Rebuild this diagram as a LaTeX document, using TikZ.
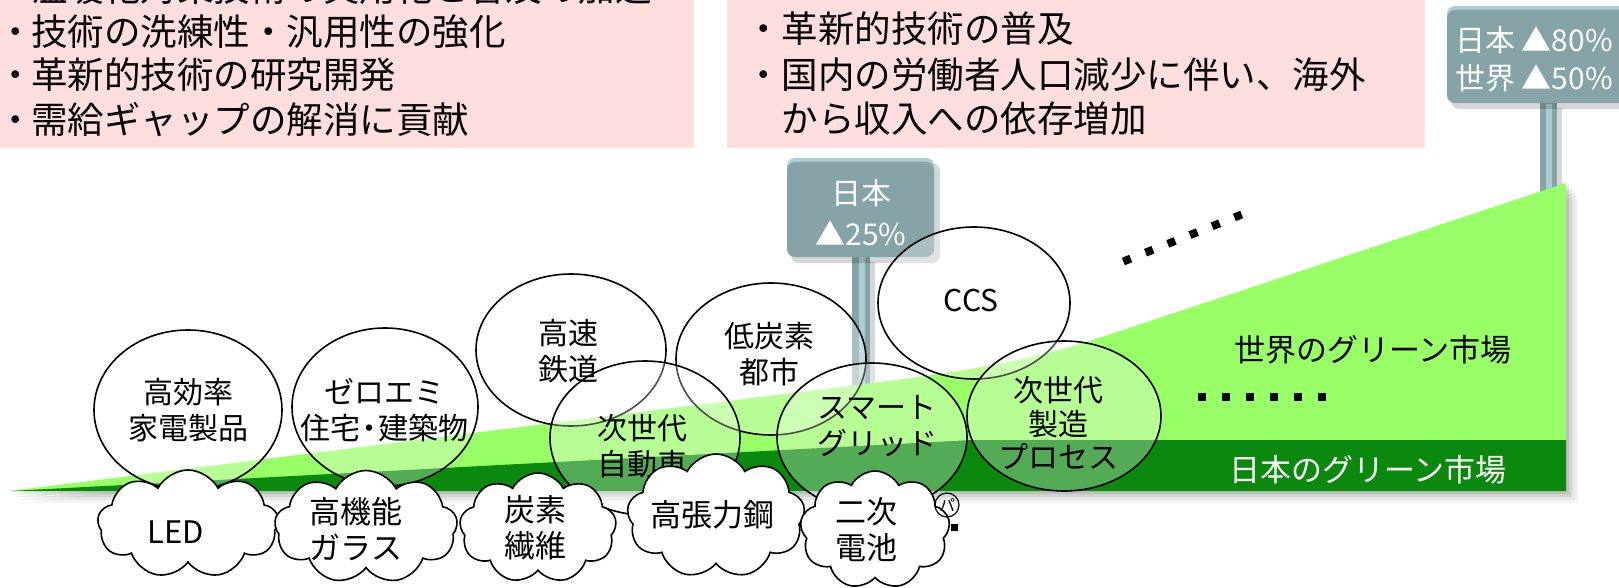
\documentclass[tikz,border=0pt]{standalone}
\usepackage{fontspec}
\setmainfont{Noto Sans CJK JP}
\usetikzlibrary{shapes.geometric,shapes.symbols}
\definecolor{pinkbg}{RGB}{255,222,224}
\definecolor{lgreen}{RGB}{153,255,102}
\definecolor{dgreen}{RGB}{11,136,14}
\definecolor{signc}{RGB}{134,164,168}
\definecolor{signhi}{RGB}{172,205,210}
\newcommand{\bdot}{\makebox[31pt][c]{・}}
\begin{document}
\begin{tikzpicture}[x=1pt,y=-1pt,
  bub/.style={ellipse, draw=black, line width=1.6pt, fill=white, fill opacity=0.3, inner sep=0pt},
  btxt/.style={font=\fontsize{30}{36}\selectfont, align=center, inner sep=0pt},
  cld/.style={cloud, cloud puffs=9, cloud puff arc=125, cloud ignores aspect, draw=black, line width=1.6pt, fill=white, inner sep=0pt},
  ctxt/.style={font=\fontsize{31}{36}\selectfont, align=center, inner sep=0pt},
  ptxt/.style={font=\fontsize{36.5}{44}\selectfont, anchor=west, inner sep=0pt},
  stxt/.style={font=\fontsize{30}{36}\selectfont, text=white, inner sep=0pt},
  sq/.style={line width=8pt, dash pattern=on 8pt off 15.9pt},
  shd/.style={black, opacity=0.16},
]
\useasboundingbox (0,0) rectangle (1619,588);

\begin{scope}
\clip (0,0) rectangle (1619,588);
% pink boxes
\fill[pinkbg] (0,0) rectangle (694,148);
\fill[pinkbg] (727,0) rectangle (1425,148);
\node[ptxt] (l0) at (0,-12) {\bdot 温暖化対策技術の実用化と普及の加速};
\node[ptxt] (l1) at (0,32) {\bdot 技術の洗練性・汎用性の強化};
\node[ptxt] (l2) at (0,75) {\bdot 革新的技術の研究開発};
\node[ptxt] (l3) at (0,120) {\bdot 需給ギャップの解消に貢献};
\node[ptxt] (r1) at (745,29) {・革新的技術の普及};
\node[ptxt] (r2) at (745,75) {・国内の労働者人口減少に伴い、海外};
\node[ptxt] (r3) at (745,119) {　から収入への依存増加};

% middle sign
\fill[shd] (870,262) rectangle (875,400);
\fill[signc] (852,250) rectangle (870,400);
\fill[signhi] (859,257) rectangle (865,400);
\fill[shd, rounded corners=8pt] (791,163) rectangle (940,263);
\fill[signhi, rounded corners=8pt] (787,158) rectangle (934,257);
\fill[signc, rounded corners=8pt] (787,162) rectangle (934,257);
\node[stxt] (s1a) at (861,193) {日本};
\node[stxt] (s1b) at (861,233) {▲25\%};

% right sign
\fill[shd] (1557,108) rectangle (1562,230);
\fill[signc] (1540,100) rectangle (1557,230);
\fill[signhi] (1546,104) rectangle (1552,230);
\fill[shd, rounded corners=8pt] (1451,11) rectangle (1645,109);
\fill[signhi, rounded corners=8pt] (1447,6) rectangle (1640,103);
\fill[signc, rounded corners=8pt] (1447,10) rectangle (1640,103);
\node[stxt, anchor=west] (s2a) at (1455,40) {日本 ▲80\%};
\node[stxt, anchor=west] (s2b) at (1455,78) {世界 ▲50\%};

% green market shape with shadow
\foreach \dd/\op in {3/0.10, 6/0.08, 9/0.06, 12/0.04}{
  \fill[black, opacity=\op, shift={(\dd,\dd)}] (10,491) -- (880,382) .. controls (990,368) and (1040,358) .. (1120,331) -- (1566,183) -- (1566,491) -- cycle;
}
\fill[lgreen] (10,491) -- (880,382) .. controls (990,368) and (1040,358) .. (1120,331) -- (1566,183) -- (1566,491) -- cycle;
\fill[dgreen] (10,491) -- (972,440) -- (1566,440) -- (1566,491) -- cycle;
\node[font=\fontsize{31}{36}\selectfont, inner sep=0pt] (wgm) at (1373,350) {世界のグリーン市場};
\node[font=\fontsize{31}{36}\selectfont, inner sep=0pt, text=white] (jgm) at (1368,470) {日本のグリーン市場};

% dotted continuations
\coordinate (d1s) at (1123.3,261.5);
\coordinate (d1e) at (1241.7,214.5);
\draw[sq] (d1s) -- (d1e);
\coordinate (d2s) at (1198,397);
\coordinate (d2e) at (1326,397);
\draw[sq, dash pattern=on 8pt off 16pt] (d2s) -- (d2e);

% technology ellipses
\node[bub, minimum width=188pt, minimum height=160pt] (e1) at (188,410) {};
\node[bub, minimum width=186pt, minimum height=158pt] (e2) at (385,407) {};
\node[bub, minimum width=190pt, minimum height=152pt] (e3) at (571,350) {};
\node[bub, minimum width=190pt, minimum height=152pt] (e5) at (771,359) {};
\node[bub, minimum width=190pt, minimum height=154pt] (e4) at (645,438) {};
\node[bub, minimum width=190pt, minimum height=148pt] (e6) at (872,437) {};
\node[bub, minimum width=192pt, minimum height=152pt] (e7) at (974,303) {};
\node[bub, minimum width=194pt, minimum height=150pt] (e8) at (1064,416) {};

\node[btxt] (t1) at (188,410) {高効率\\家電製品};
\node[btxt] (t2) at (384,410) {ゼロエミ\\住宅{\kern-6pt}・{\kern-6pt}建築物};
\node[btxt] (t3) at (568,351) {高速\\鉄道};
\node[btxt] (t4) at (642,446) {次世代\\自動車};
\node[btxt] (t5) at (769,354) {低炭素\\都市};
\node[btxt] (t6) at (877,426) {スマート\\グリッド};
\node[btxt] (t7) at (971,301) {CCS};
\node[btxt, font=\fontsize{30}{33.5}\selectfont] (t8) at (1058,423) {次世代\\製造\\プロセス};

% material clouds
\node[cld, minimum width=181pt, minimum height=108pt] (c1) at (188,524) {};
\node[cld, minimum width=183pt, minimum height=113pt] (c2) at (366,527) {};
\node[cld, minimum width=157pt, minimum height=110pt] (c3) at (538,528) {};
\node[cld, minimum width=178pt, minimum height=124pt] (c4) at (716,516) {};
\node[cld, minimum width=150pt, minimum height=118pt] (c5) at (875,530) {};

\node[ctxt] (ct1) at (176,532) {LED};
\node[ctxt] (ct2) at (356,529) {高機能\\ガラス};
\node[ctxt] (ct3) at (535,528) {炭素\\繊維};
\node[ctxt] (ct4) at (712,515) {高張力鋼};
\node[ctxt] (ct5) at (866,530) {二次\\電池};

\node[circle, draw=black, line width=1.2pt, minimum size=24pt, inner sep=0pt, font=\fontsize{16}{16}\selectfont] (pa) at (947,505) {パ};
\node[fill=black, minimum size=7pt, inner sep=0pt] (pasq) at (954,527) {};
\end{scope}
\end{tikzpicture}
\end{document}
